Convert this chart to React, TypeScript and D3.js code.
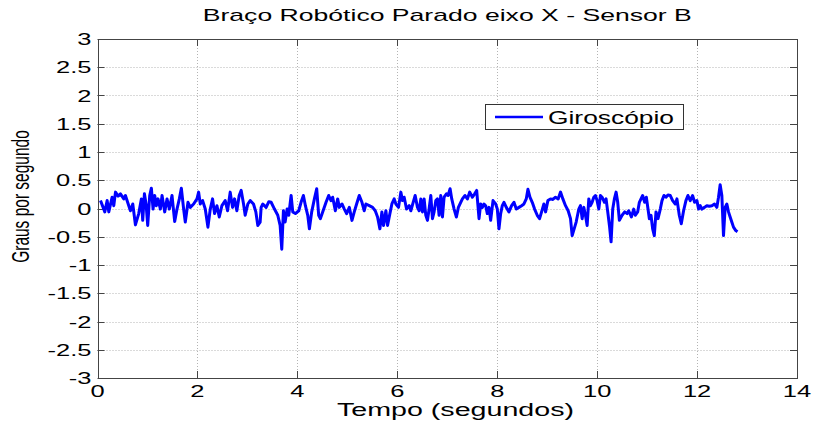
import React, { useRef, useEffect } from 'react';
import * as d3 from 'd3';

// time in seconds
const tempo = [
  0.06, 0.146, 0.193, 0.226, 0.293, 0.326, 0.36, 0.413, 0.459, 0.526,
  0.559, 0.626, 0.659, 0.706, 0.759, 0.825, 0.879, 0.905, 0.939, 0.972,
  1.005, 1.045, 1.078, 1.112, 1.145, 1.178, 1.212, 1.258, 1.292, 1.345,
  1.391, 1.438, 1.491, 1.545, 1.591, 1.638, 1.678, 1.724, 1.757, 1.811,
  1.857, 1.924, 1.991, 2.024, 2.057, 2.104, 2.157, 2.21, 2.257, 2.303,
  2.343, 2.39, 2.437, 2.49, 2.556, 2.603, 2.656, 2.703, 2.743, 2.789,
  2.836, 2.876, 2.923, 2.956, 3.009, 3.056, 3.122, 3.169, 3.209, 3.255,
  3.275, 3.309, 3.375, 3.429, 3.475, 3.542, 3.608, 3.655, 3.688, 3.721,
  3.755, 3.795, 3.828, 3.875, 3.908, 3.961, 4.028, 4.074, 4.121, 4.161,
  4.208, 4.241, 4.287, 4.341, 4.387, 4.427, 4.46, 4.507, 4.574, 4.627,
  4.673, 4.707, 4.76, 4.807, 4.84, 4.893, 4.94, 4.986, 5.04, 5.093,
  5.139, 5.186, 5.239, 5.293, 5.339, 5.372, 5.439, 5.506, 5.559, 5.605,
  5.652, 5.692, 5.725, 5.772, 5.805, 5.852, 5.892, 5.938, 5.972, 6.025,
  6.071, 6.105, 6.138, 6.185, 6.238, 6.271, 6.318, 6.358, 6.404, 6.438,
  6.471,
  6.504, 6.537, 6.571, 6.604, 6.637, 6.671, 6.704, 6.737, 6.771, 6.804,
  6.837, 6.87, 6.904, 6.937, 6.984, 7.017, 7.057, 7.09, 7.137, 7.183,
  7.223, 7.27, 7.303, 7.356, 7.403, 7.45, 7.503, 7.549, 7.589, 7.636,
  7.669, 7.703, 7.736, 7.769, 7.802, 7.836, 7.869, 7.916, 7.969, 8.002,
  8.035, 8.069, 8.102, 8.135, 8.182, 8.235, 8.288, 8.335, 8.382, 8.435,
  8.488, 8.535, 8.581, 8.615, 8.655, 8.701, 8.748, 8.801, 8.848, 8.888,
  8.934, 8.968, 9.014, 9.067, 9.114, 9.167, 9.22, 9.267, 9.314, 9.367,
  9.42, 9.467, 9.5, 9.54, 9.58, 9.633, 9.666,
  9.7, 9.733, 9.766, 9.8, 9.833, 9.866, 9.899, 9.933, 9.966, 9.999,
  10.033, 10.066, 10.099, 10.146, 10.179, 10.212, 10.246, 10.279, 10.312, 10.345,
  10.379, 10.412, 10.445, 10.499, 10.552, 10.599, 10.632, 10.685, 10.732, 10.765,
  10.811, 10.845, 10.878, 10.911, 10.951, 10.985, 11.018, 11.045, 11.078, 11.111,
  11.144, 11.178, 11.218, 11.264, 11.298, 11.337, 11.377, 11.417, 11.464, 11.511,
  11.564, 11.597, 11.644, 11.684, 11.73, 11.777, 11.817, 11.863, 11.91, 11.95,
  11.997, 12.03, 12.063, 12.096, 12.149, 12.196, 12.243, 12.296, 12.349, 12.396,
  12.429, 12.462, 12.496, 12.529, 12.562, 12.596, 12.629, 12.662, 12.695, 12.729,
  12.775, 12.809,
];

// gyro reading (graus por segundo)
const giroscopio = [
  0.14, -0.06, 0.14, -0.06, 0.2, 0.05, 0.29, 0.22, 0.26, 0.17,
  0.23, 0.05, -0.04, 0.08, -0.29, -0.09, 0.17, -0.21, 0.26, 0.08,
  -0.3, 0.23, 0.36, -0.01, 0.23, 0.05, 0.17, -0.01, 0.23, -0.06,
  0.17, -0.01, 0.23, -0.23, -0.01, 0.17, 0.36, -0.01, -0.24, 0.11,
  0.02, 0.08, 0.17, 0.29, 0.08, 0.14, -0.01, -0.33, -0.01, 0.17,
  -0.09, 0.05, -0.15, 0.05, 0.14, -0.04, 0.29, 0.02, 0.17, -0.04,
  0.23, 0.32, 0.08, -0.12, 0.08, 0.14, 0.08, -0.06, -0.3, -0.24,
  0.02, 0.08, 0.02, 0.12, 0.11, -0.01, -0.12, -0.3, -0.72, -0.04,
  -0.24, -0.01, -0.12, 0.23, -0.06, -0.09, -0.04, 0.11, 0.23, 0.05,
  -0.12, -0.36, -0.06, 0.17, 0.35, -0.12, -0.18, -0.06, 0.11, 0.23,
  0.14, 0.2, -0.04, 0.17, 0.02, 0.08, -0.01, -0.09, 0.02, -0.21,
  -0.06, 0.08, 0.23, 0.11, -0.04, 0.08, 0.05, 0.02, -0.04, -0.15,
  -0.36, -0.06, -0.3, -0.04, -0.3, -0.09, 0.08, 0.17, 0.08, 0.02,
  0.29, 0.14, 0.2, -0.01, 0.05, -0.04, 0.11, 0.23, 0.02, -0.04,
  0.17,
  -0.06, 0.17, -0.12, -0.21, -0.01, 0.23, -0.18, -0.06, 0.14, 0.17,
  -0.12, 0.23, -0.15, 0.2, 0.26, 0.23, 0.35, 0.17, -0.01, -0.15,
  0.02, 0.11, 0.17, 0.23, 0.17, 0.29, 0.2, 0.26, 0.32, -0.18,
  0.08, 0.02, 0.08, 0.05, -0.09, 0.02, -0.21, 0.14, 0.08, -0.01,
  -0.36, -0.09, 0.05, 0.11, 0.02, -0.06, 0.05, 0.11, -0.01, 0.02,
  0.05, 0.08, 0.17, 0.34, 0.2, 0.11, -0.01, -0.12, -0.18, -0.06,
  0.08, -0.06, 0.14, 0.17, 0.16, 0.2, 0.17, 0.29, 0.17, 0.05,
  -0.04, -0.18, -0.48, -0.36, -0.24, -0.01, 0.05,
  -0.18, 0.02, -0.12, -0.3, 0.17, 0.05, 0.11, 0.2, 0.23, 0.14,
  -0.01, 0.23, 0.2, 0.11, 0.17, -0.06, -0.3, -0.59, -0.01, 0.17,
  0.29, 0.11, -0.21, -0.12, -0.06, -0.09, -0.04, -0.15, -0.01, -0.12,
  -0.06, 0.11, 0.17, 0.23, 0.11, 0.2, -0.01, -0.18, -0.12, -0.36,
  -0.48, -0.06, -0.18, -0.01, 0.14, 0.23, 0.2, 0.24, 0.23, 0.14,
  0.08, 0.17, -0.12, -0.27, -0.04, 0.14, 0.23, 0.14, 0.23, 0.11,
  0.14, -0.01, 0.05, -0.01, 0.02, 0.05, 0.04, 0.05, 0.08, 0.02,
  0.2, 0.42, 0.23, -0.48, 0.02, 0.08, -0.06, -0.15, -0.24, -0.33,
  -0.39, -0.41,
];

const xTicks = [0, 2, 4, 6, 8, 10, 12, 14];
const yTicks = [-3, -2.5, -2, -1.5, -1, -0.5, 0, 0.5, 1, 1.5, 2, 2.5, 3];

const titulo = 'Braço Robótico Parado eixo X - Sensor B';
const xLabel = 'Tempo (segundos)';
const yLabel = 'Graus por segundo';
const legendLabel = 'Giroscópio';

const FONT = '"Liberation Sans", Arial, Helvetica, sans-serif';
const STRETCH = 1.5; // the original image is stretched horizontally

const App = () => {
  const svgRef = useRef(null);

  useEffect(() => {
    const width = 819;
    const height = 425;
    const left = 97.5, right = 797, top = 39, bottom = 378;

    const svg = d3.select(svgRef.current);
    svg.selectAll('*').remove();
    svg.attr('width', width).attr('height', height);

    svg.append('rect').attr('width', width).attr('height', height).attr('fill', '#fff');

    const x = d3.scaleLinear().domain([0, 14]).range([left, right]);
    const y = d3.scaleLinear().domain([-3, 3]).range([bottom, top]);

    // grid
    const grid = svg.append('g')
      .attr('stroke', '#b4b4b4')
      .attr('stroke-width', 1)
      .attr('stroke-dasharray', '1,2');
    grid.selectAll('.gx')
      .data(xTicks.slice(1, -1))
      .enter()
      .append('line')
      .attr('x1', d => Math.round(x(d)) + 0.5)
      .attr('x2', d => Math.round(x(d)) + 0.5)
      .attr('y1', top)
      .attr('y2', bottom);
    grid.selectAll('.gy')
      .data(yTicks.slice(1, -1))
      .enter()
      .append('line')
      .attr('y1', d => Math.round(y(d)) + 0.5)
      .attr('y2', d => Math.round(y(d)) + 0.5)
      .attr('x1', left)
      .attr('x2', right);

    // ticks (inward, all four sides)
    const ticks = svg.append('g').attr('stroke', '#444').attr('stroke-width', 1);
    xTicks.forEach(t => {
      const px = Math.round(x(t)) + 0.5;
      ticks.append('line').attr('x1', px).attr('x2', px).attr('y1', bottom).attr('y2', bottom - 7);
      ticks.append('line').attr('x1', px).attr('x2', px).attr('y1', top).attr('y2', top + 7);
    });
    yTicks.forEach(t => {
      const py = Math.round(y(t)) + 0.5;
      ticks.append('line').attr('y1', py).attr('y2', py).attr('x1', left).attr('x2', left + 7);
      ticks.append('line').attr('y1', py).attr('y2', py).attr('x1', right).attr('x2', right - 7);
    });

    // data line
    const line = d3.line()
      .x(d => x(d[0]))
      .y(d => y(d[1]))
      .curve(d3.curveLinear);
    const pts = tempo.map((t, i) => [t, giroscopio[i]]);
    svg.append('path')
      .datum(pts)
      .attr('d', line)
      .attr('fill', 'none')
      .attr('stroke', '#0000ff')
      .attr('stroke-width', 3)
      .attr('stroke-linejoin', 'round');

    // axes box
    svg.append('rect')
      .attr('x', Math.round(left) + 0.5)
      .attr('y', top + 0.5)
      .attr('width', right - Math.round(left))
      .attr('height', bottom - top)
      .attr('fill', 'none')
      .attr('stroke', '#444')
      .attr('stroke-width', 1);

    // tick labels
    xTicks.forEach(t => {
      svg.append('text')
        .attr('transform', `translate(${x(t)},${397}) scale(${STRETCH},1)`)
        .attr('text-anchor', 'middle')
        .attr('font-family', FONT)
        .attr('font-size', 17)
        .text(String(t));
    });
    yTicks.forEach(t => {
      svg.append('text')
        .attr('transform', `translate(${91.5},${y(t) + 6}) scale(${STRETCH},1)`)
        .attr('text-anchor', 'end')
        .attr('font-family', FONT)
        .attr('font-size', 17)
        .text(String(t));
    });

    // title
    svg.append('text')
      .attr('x', (left + right) / 2)
      .attr('y', 21)
      .attr('text-anchor', 'middle')
      .attr('font-family', FONT)
      .attr('font-size', 17)
      .attr('textLength', 489)
      .attr('lengthAdjust', 'spacingAndGlyphs')
      .text(titulo);

    // x label
    svg.append('text')
      .attr('x', 455.5)
      .attr('y', 416)
      .attr('text-anchor', 'middle')
      .attr('font-family', FONT)
      .attr('font-size', 18)
      .attr('textLength', 237)
      .attr('lengthAdjust', 'spacingAndGlyphs')
      .text(xLabel);

    // y label
    svg.append('text')
      .attr('transform', `translate(28.5,196.5) scale(${STRETCH},1) rotate(-90)`)
      .attr('text-anchor', 'middle')
      .attr('font-family', FONT)
      .attr('font-size', 15.5)
      .text(yLabel);

    // legend
    const lg = svg.append('g');
    lg.append('rect')
      .attr('x', 485.5)
      .attr('y', 104.5)
      .attr('width', 198)
      .attr('height', 25)
      .attr('fill', '#fff')
      .attr('stroke', '#333')
      .attr('stroke-width', 1);
    lg.append('line')
      .attr('x1', 495)
      .attr('x2', 543)
      .attr('y1', 117)
      .attr('y2', 117)
      .attr('stroke', '#0000ff')
      .attr('stroke-width', 2.5);
    lg.append('text')
      .attr('x', 548)
      .attr('y', 124)
      .attr('font-family', FONT)
      .attr('font-size', 18)
      .attr('textLength', 126)
      .attr('lengthAdjust', 'spacingAndGlyphs')
      .text(legendLabel);

    return () => {
      d3.select(svgRef.current).selectAll('*').remove();
    };
  }, []);

  return (
    <svg
      ref={svgRef}
      style={{ position: 'absolute', left: 0, top: 0, display: 'block' }}
    ></svg>
  );
};

export default App;
